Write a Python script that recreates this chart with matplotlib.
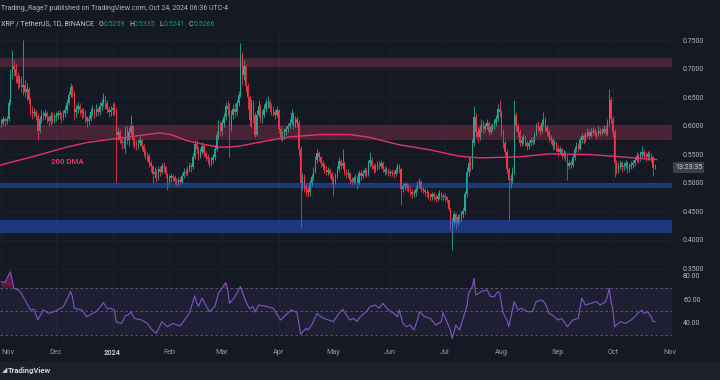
import numpy as np
import pandas as pd
import matplotlib
matplotlib.use("Agg")
import matplotlib.pyplot as plt
import matplotlib.dates as mdates
from matplotlib.transforms import blended_transform_factory
from matplotlib.patches import Rectangle

plt.rcParams['font.family'] = ['Roboto', 'DejaVu Sans']

# ---------------- data ----------------
start_date = "2023-11-01"
first_open = 0.603

closes = [
    # Nov 2023
    .606, .612, .608, .612, .640, .690, .705, .700, .688, .675, .682, .668, .672, .660, .665,
    .645, .628, .622, .625, .618, .592, .612, .620, .618, .622, .615, .608, .618, .610, .615,
    # Dec
    .618, .622, .620, .615, .622, .628, .640, .655, .668, .660, .625, .630, .635, .628, .622, .625,
    .615, .608, .612, .625, .628, .622, .630, .625, .635, .640, .650, .640, .630, .625, .628,
    # Jan 2024
    .632, .628, .585, .590, .575, .570, .572, .595, .575, .590, .600, .575, .570, .565, .570, .575,
    .565, .555, .550, .548, .535, .530, .515, .520, .510, .525, .520, .530, .528, .515, .502,
    # Feb
    .508, .512, .510, .503, .500, .505, .502, .512, .520, .518, .525, .530, .528, .545, .568,
    .560, .548, .555, .565, .552, .545, .542, .535, .540, .545, .560, .585, .600, .592,
    # Mar
    .605, .615, .635, .630, .600, .620, .630, .625, .640, .655, .725, .690, .705, .670, .650, .610,
    .640, .620, .585, .620, .635, .612, .620, .630, .640, .642, .632, .630, .625, .620, .628,
    # Apr
    .595, .580, .582, .590, .595, .600, .605, .622, .600, .612, .605, .560, .500, .510, .495,
    .490, .485, .500, .510, .520, .540, .552, .545, .535, .530, .525, .520, .522, .515, .505,
    # May
    .502, .512, .525, .538, .530, .535, .520, .515, .518, .505, .502, .508, .510, .500, .518, .512,
    .518, .522, .515, .535, .540, .530, .525, .528, .532, .530, .535, .525, .520, .522, .518,
    # Jun
    .520, .518, .515, .522, .530, .525, .490, .495, .498, .492, .490, .485, .480, .482, .490,
    .498, .502, .490, .488, .485, .482, .478, .475, .480, .476, .472, .478, .482, .475, .478,
    # Jul
    .475, .470, .455, .425, .432, .445, .430, .440, .438, .445, .450, .480, .520, .535, .530, .570,
    .615, .590, .580, .595, .605, .595, .600, .605, .590, .598, .600, .605, .612, .630, .625,
    # Aug
    .590, .570, .555, .525, .505, .505, .520, .620, .600, .590, .570, .575, .580, .570, .565, .570,
    .575, .572, .585, .600, .598, .592, .605, .610, .598, .590, .580, .575, .565, .570, .562,
    # Sep
    .555, .560, .548, .552, .545, .530, .535, .532, .545, .560, .565, .560, .575, .582, .575,
    .585, .590, .583, .590, .592, .588, .585, .592, .588, .590, .595, .588, .605, .645, .612,
    # Oct
    .590, .535, .525, .530, .535, .528, .530, .535, .525, .530, .532, .535, .540, .548, .542, .550,
    .555, .548, .545, .550, .548, .545, .5259, .5266,
]

highs = [
    .612, .618, .616, .618, .648, .700, .733, .715, .708, .695, .690, .688, .751, .680, .675,
    .668, .650, .635, .632, .630, .622, .618, .628, .626, .630, .626, .620, .625, .624, .622,
    .624, .628, .628, .625, .628, .635, .648, .662, .675, .672, .662, .638, .642, .640, .632, .632,
    .628, .618, .620, .632, .636, .632, .638, .634, .642, .648, .658, .655, .645, .635, .635,
    .640, .642, .632, .598, .595, .580, .580, .600, .600, .598, .620, .602, .580, .575, .578, .582,
    .578, .568, .560, .555, .552, .540, .532, .528, .524, .530, .530, .535, .536, .530, .518,
    .514, .518, .516, .514, .508, .510, .510, .518, .526, .524, .530, .536, .535, .552, .575,
    .575, .565, .562, .572, .568, .556, .550, .546, .545, .550, .566, .592, .610, .608,
    .612, .622, .642, .645, .640, .628, .638, .640, .646, .662, .745, .730, .715, .708, .675, .655,
    .648, .645, .625, .628, .645, .638, .628, .638, .648, .652, .648, .640, .635, .630, .635,
    .630, .600, .592, .596, .600, .606, .612, .630, .625, .618, .618, .610, .565, .518, .515,
    .500, .495, .505, .515, .528, .548, .560, .556, .548, .540, .535, .530, .528, .526, .520,
    .512, .518, .530, .545, .542, .560, .538, .525, .524, .520, .510, .512, .515, .512, .522, .522,
    .522, .528, .526, .540, .555, .545, .535, .534, .538, .538, .540, .538, .530, .528, .526,
    .525, .524, .522, .528, .535, .534, .528, .500, .502, .502, .498, .494, .490, .488, .495,
    .503, .508, .505, .495, .492, .490, .486, .482, .485, .484, .480, .482, .488, .485, .482,
    .482, .478, .472, .458, .438, .450, .448, .445, .446, .450, .456, .486, .528, .545, .545, .578,
    .635, .622, .598, .602, .612, .610, .606, .612, .608, .604, .606, .612, .620, .638, .645,
    .628, .595, .575, .560, .528, .515, .528, .645, .625, .605, .595, .582, .586, .585, .575, .576,
    .580, .580, .590, .606, .608, .602, .612, .625, .615, .602, .595, .585, .580, .576, .574,
    .566, .565, .562, .558, .556, .550, .540, .540, .550, .565, .572, .570, .580, .588, .586,
    .590, .596, .594, .596, .598, .596, .592, .600, .596, .596, .602, .600, .612, .665, .650,
    .618, .595, .540, .536, .540, .538, .536, .540, .538, .535, .538, .540, .546, .555, .552, .556,
    .565, .560, .554, .556, .556, .552, .548, .5335,
]

lows = [
    .598, .602, .600, .604, .608, .636, .682, .688, .675, .665, .668, .660, .655, .650, .645,
    .638, .620, .612, .615, .610, .575, .588, .606, .610, .612, .606, .600, .602, .605, .605,
    .608, .612, .612, .606, .610, .615, .622, .636, .650, .650, .610, .615, .622, .620, .612, .615,
    .606, .598, .602, .608, .618, .614, .618, .618, .620, .628, .635, .630, .622, .615, .618,
    .620, .620, .502, .575, .568, .560, .562, .552, .568, .565, .585, .565, .562, .558, .560, .565,
    .558, .548, .542, .538, .528, .520, .500, .508, .502, .506, .512, .515, .520, .508, .488,
    .496, .502, .504, .498, .494, .496, .496, .500, .508, .512, .514, .520, .520, .525, .542,
    .552, .540, .544, .550, .545, .538, .534, .528, .530, .535, .540, .556, .578, .582,
    .585, .598, .610, .618, .546, .592, .612, .615, .620, .635, .650, .672, .680, .660, .630, .600,
    .598, .605, .580, .582, .615, .605, .605, .615, .625, .632, .625, .620, .618, .612, .615,
    .588, .575, .574, .578, .585, .590, .596, .602, .595, .598, .598, .548, .421, .488, .485,
    .478, .475, .478, .495, .505, .518, .535, .538, .528, .522, .518, .514, .514, .508, .498,
    .478, .498, .508, .520, .524, .525, .514, .508, .510, .498, .496, .498, .500, .490, .496, .506,
    .508, .512, .510, .512, .528, .524, .518, .520, .522, .524, .526, .520, .514, .515, .512,
    .512, .512, .508, .512, .518, .518, .462, .485, .488, .486, .484, .478, .474, .476, .478,
    .486, .492, .485, .482, .478, .476, .472, .468, .470, .470, .466, .468, .472, .470, .470,
    .468, .465, .450, .418, .383, .425, .420, .425, .430, .432, .438, .445, .475, .512, .520, .525,
    .565, .580, .570, .575, .590, .588, .590, .595, .584, .586, .592, .595, .600, .608, .615,
    .582, .562, .548, .518, .435, .492, .500, .515, .592, .580, .565, .565, .568, .565, .558, .560,
    .565, .566, .568, .582, .590, .585, .588, .600, .592, .584, .572, .568, .558, .560, .556,
    .548, .550, .542, .544, .538, .505, .525, .526, .528, .540, .555, .554, .558, .570, .568,
    .572, .580, .578, .580, .584, .582, .578, .582, .582, .584, .586, .582, .585, .600, .605,
    .580, .510, .515, .518, .524, .520, .522, .526, .518, .520, .524, .526, .530, .536, .535, .538,
    .544, .542, .538, .540, .540, .536, .512, .5241,
]

# 200-day moving average, read at sample days (days after start_date)
dma_day = [-1, 17, 36, 47, 63, 75, 87, 94, 101, 109, 119, 125, 131, 142, 158, 175, 191, 202,
           218, 235, 251, 262, 284, 300, 322, 339, 359]
dma_val = [.531, .546, .563, .571, .578, .583, .588, .584, .575, .569, .563, .563, .565, .572,
           .581, .585, .585, .580, .567, .558, .547, .544, .546, .551, .550, .546, .541]

# RSI(14), read at its turning points (days after start_date)
rsi_day = [0, 2, 5, 7, 10, 13, 16, 18, 20, 23, 26, 29, 34, 37, 38, 39, 40, 44, 47, 50, 52, 54,
           56, 58, 60, 62, 63, 66, 68, 70, 71, 73, 77, 80, 83, 85, 88, 91, 94, 98, 101, 103, 106,
           107, 108, 110, 114, 117, 119, 123, 124, 125, 128, 131, 134, 136, 138, 139, 141, 145,
           149, 153, 156, 159, 162, 164, 167, 168, 170, 173, 175, 178, 182, 185, 187, 191, 193,
           195, 196, 200, 202, 205, 207, 209, 212, 215, 217, 218, 220, 222, 224, 226, 228, 229,
           232, 235, 238, 241, 242, 246, 247, 249, 251, 253, 255, 256, 258, 259, 260, 263, 266,
           268, 270, 272, 273, 275, 277, 278, 281, 283, 285, 288, 291, 293, 296, 298, 300, 302,
           305, 307, 310, 313, 316, 318, 320, 323, 326, 328, 331, 332, 333, 334, 335, 336, 339,
           342, 345, 347, 349, 351, 352, 354, 356, 357, 358]
rsi_val = [75.0, 74.2, 83.5, 69.4, 67.4, 59.4, 50.9, 51.5, 42.3, 50.9, 48.0, 49.4, 53.7, 63.0,
           66.5, 62.2, 52.3, 50.9, 45.1, 48.0, 49.4, 53.0, 57.1, 52.0, 52.3, 50.9, 40.5, 39.5,
           46.0, 47.0, 49.4, 43.7, 42.3, 39.5, 33.3, 31.0, 40.9, 36.6, 39.5, 37.2, 43.7, 48.0,
           62.8, 57.1, 54.0, 60.9, 49.4, 53.7, 65.1, 74.2, 69.0, 56.5, 62.0, 70.8, 58.0, 52.0,
           53.7, 49.0, 55.1, 54.0, 52.3, 42.3, 47.0, 50.9, 48.6, 30.3, 35.2, 33.8, 38.0, 48.0,
           45.1, 43.0, 40.9, 48.0, 51.5, 42.3, 43.7, 41.0, 44.0, 49.4, 53.7, 55.1, 52.3, 56.5,
           50.9, 48.0, 45.1, 50.9, 39.5, 36.6, 38.0, 33.8, 42.3, 49.4, 45.1, 43.7, 38.0, 40.9,
           48.6, 33.8, 26.6, 38.0, 33.8, 43.7, 53.7, 65.1, 70.8, 77.8, 63.7, 66.5, 68.0, 62.2,
           62.2, 66.5, 65.1, 48.0, 42.3, 36.6, 58.0, 50.9, 52.3, 49.4, 49.4, 58.0, 59.4, 56.5,
           48.0, 46.5, 42.3, 43.7, 36.6, 42.3, 43.7, 60.9, 55.1, 56.5, 58.0, 55.1, 58.0, 62.2,
           69.4, 58.0, 50.9, 36.6, 40.9, 39.5, 42.3, 45.1, 48.6, 50.5, 48.0, 49.4, 45.1, 40.9, 41.0]

zones_red = [(0.704, 0.720), (0.575, 0.601)]
zones_blue = [(0.492, 0.5005), (0.413, 0.435)]

price_ticks = [0.35, 0.40, 0.45, 0.50, 0.55, 0.60, 0.65, 0.70, 0.75]
rsi_ticks = [40, 60, 80]
rsi_levels = [70, 50, 30]
month_labels = ['Nov', 'Dec', '2024', 'Feb', 'Mar', 'Apr', 'May', 'Jun', 'Jul', 'Aug',
                'Sep', 'Oct', 'Nov']

header_line1 = "Trading_Rage7 published on TradingView.com, Oct 24, 2024 06:36 UTC-4"
symbol_text = "XRP / TetherUS, 1D, BINANCE"
ohlc_keys = ["O", "H", "L", "C"]
ohlc_vals = ["0.5259", "0.5335", "0.5241", "0.5266"]
countdown = "13:23:35"
dma_label = "200 DMA"

# ---------------- style ----------------
BG = '#151924'
UP = '#22ab94'
DN = '#f23645'
TXT = '#b2b5be'
W, H = 720, 380


def fx(px):
    return px / W


def fy(py):
    return 1 - py / H


fig = plt.figure(figsize=(7.2, 3.8), dpi=100, facecolor=BG)
ax = fig.add_axes([0, fy(270), fx(672), fy(33) - fy(270)], facecolor=BG)
axr = fig.add_axes([0, fy(342), fx(672), fy(271) - fy(342)], facecolor=BG, sharex=ax)

base = pd.Timestamp(start_date)
dates = pd.date_range(start_date, periods=len(closes), freq='D')
x = mdates.date2num(dates)
c = np.array(closes)
o = np.array([first_open] + closes[:-1])
h = np.array(highs)
l = np.array(lows)
up = c >= o
cols = np.where(up, UP, DN)

x0 = mdates.date2num(base)
ax.set_xlim(x0 - 0.66, x0 + 367.4)
ax.set_ylim(0.5 - 87 / 570, 0.5 + 150 / 570)
axr.set_ylim(50 - 31 / 1.175, 50 + 40 / 1.175)

# grid
month_ticks = mdates.date2num(pd.date_range('2023-11-01', '2024-11-01', freq='MS'))
for a in (ax, axr):
    for mt in month_ticks:
        a.axvline(mt, color='#1d2130', lw=0.6, zorder=0)
for pt in price_ticks:
    ax.axhline(pt, color='#1d2130', lw=0.6, zorder=0)

# candles
ax.vlines(x, l, h, colors=cols, lw=0.6, zorder=2)
ax.bar(x, np.maximum(np.abs(c - o), 0.0012), bottom=np.minimum(o, c), width=0.7,
       color=cols, lw=0, zorder=3)

# zones
for lo, hi in zones_red:
    ax.axhspan(lo, hi, color='#e0426a', alpha=0.25, lw=0, zorder=4)
for lo, hi in zones_blue:
    ax.axhspan(lo, hi, color='#2962ff', alpha=0.42, lw=0, zorder=4)

# 200 DMA
dma_x = mdates.date2num(base + pd.to_timedelta(dma_day, unit='D'))
ax.plot(dma_x, dma_val, color='#e2336b', lw=1.0, zorder=5)
ax.text(x0 + 27, 0.5374, dma_label, color='#e2336b', fontsize=5.6, fontweight='bold',
        va='center', ha='left', zorder=6)

# axes decoration
for a in (ax, axr):
    for s in a.spines.values():
        s.set_visible(False)
    a.yaxis.tick_right()
ax.set_yticks(price_ticks)
ax.set_yticklabels([f'{t:.4f}' for t in price_ticks])
ax.tick_params(axis='y', length=0, pad=8, labelsize=5, labelcolor=TXT)
ax.tick_params(axis='x', length=0, labelbottom=False)

# countdown box at last price
tr = blended_transform_factory(ax.transAxes, ax.transData)
ax.text(1.0 + 3 / 672, closes[-1], countdown, transform=tr, fontsize=5, color='#d1d4dc',
        va='center', ha='left', clip_on=False, zorder=10,
        bbox=dict(boxstyle='square,pad=0.3', fc='#3c404c', ec='none'))

# RSI pane
rsi_x = mdates.date2num(base + pd.to_timedelta(rsi_day, unit='D'))
rv = np.array(rsi_val)
axr.axhspan(30, 70, color='#7e57c2', alpha=0.1, lw=0, zorder=1)
for lv in rsi_levels:
    axr.axhline(lv, color='#787b86', lw=0.6, ls=(0, (3, 3)), alpha=0.75, zorder=2)
axr.fill_between(rsi_x, rv, 70, where=rv > 70, interpolate=True, color='#c2185b',
                 alpha=0.45, lw=0, zorder=2)
axr.plot(rsi_x, rv, color='#7e57c2', lw=0.8, zorder=3)
axr.set_yticks(rsi_ticks)
axr.set_yticklabels([f'{t:.2f}' for t in rsi_ticks])
axr.tick_params(axis='y', length=0, pad=8, labelsize=5, labelcolor=TXT)
axr.set_xticks(month_ticks)
axr.set_xticklabels(month_labels)
axr.tick_params(axis='x', length=0, pad=5, labelsize=5.2, labelcolor='#9598a1')
xlabs = axr.get_xticklabels()
xlabs[0].set_horizontalalignment('left')
for lab in xlabs:
    if lab.get_text() == '2024':
        lab.set_fontweight('bold')
        lab.set_color('#c8cad2')

# bottom strip and logo
fig.patches.append(Rectangle((0, 0), 1, fy(362), transform=fig.transFigure,
                             color='#1c202b', zorder=0))
fig.text(fx(2), fy(371), "\u25E2", fontsize=5, color='#d1d4dc', va='center', ha='left')
fig.text(fx(8), fy(371), "TradingView", fontsize=5.5, color='#d1d4dc', va='center',
         ha='left', fontweight='bold')

# header
fig.text(fx(1), fy(8.5), header_line1, fontsize=5, color=TXT, va='center', ha='left')
renderer = fig.canvas.get_renderer()
cur = 1.0
t = fig.text(fx(cur), fy(24), symbol_text, fontsize=5, color='#c8cad2', va='center', ha='left')
cur = t.get_window_extent(renderer).x1 + 5
for k, v in zip(ohlc_keys, ohlc_vals):
    t = fig.text(fx(cur), fy(24), k, fontsize=5, color='#c8cad2', va='center', ha='left')
    cur = t.get_window_extent(renderer).x1
    t = fig.text(fx(cur), fy(24), v, fontsize=5, color='#089981', va='center', ha='left')
    cur = t.get_window_extent(renderer).x1 + 4

fig.savefig('out.png', dpi=100, facecolor=BG)
